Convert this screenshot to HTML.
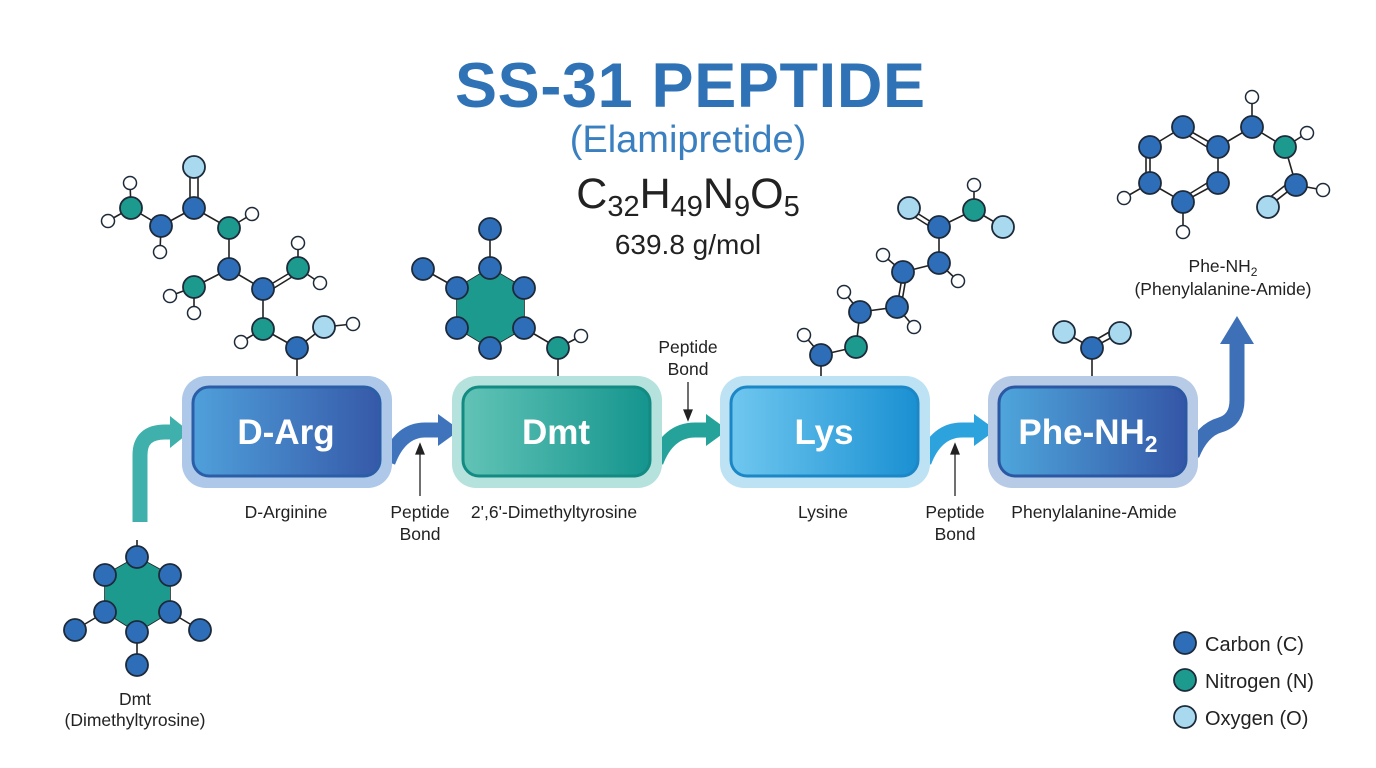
<!DOCTYPE html>
<html><head><meta charset="utf-8"><style>
html,body{margin:0;padding:0;background:#fff;}
svg{display:block;}
text{font-family:"Liberation Sans",sans-serif;}
</style></head><body>
<svg width="1376" height="768" viewBox="0 0 1376 768" xmlns="http://www.w3.org/2000/svg">
<defs>
<linearGradient id="g1" x1="0" x2="1"><stop offset="0" stop-color="#4fa0db"/><stop offset="1" stop-color="#3659a8"/></linearGradient>
<linearGradient id="g2" x1="0" x2="1"><stop offset="0" stop-color="#62c3b6"/><stop offset="1" stop-color="#14958e"/></linearGradient>
<linearGradient id="g3" x1="0" x2="1"><stop offset="0" stop-color="#6fc7ef"/><stop offset="1" stop-color="#1a90d2"/></linearGradient>
<linearGradient id="g4" x1="0" x2="1"><stop offset="0" stop-color="#4ea6dc"/><stop offset="1" stop-color="#3456a6"/></linearGradient>
</defs>

<text x="690" y="107" text-anchor="middle" font-size="63" font-weight="bold" fill="#2f73b6" textLength="470">SS-31 PEPTIDE</text>
<text x="688" y="152" text-anchor="middle" font-size="38" fill="#3a80c1">(Elamipretide)</text>
<text x="688" y="208" text-anchor="middle" font-size="43" fill="#222">C<tspan font-size="29" dy="8">32</tspan><tspan dy="-8">H</tspan><tspan font-size="29" dy="8">49</tspan><tspan dy="-8">N</tspan><tspan font-size="29" dy="8">9</tspan><tspan dy="-8">O</tspan><tspan font-size="29" dy="8">5</tspan></text>
<text x="688" y="254" text-anchor="middle" font-size="28" fill="#222">639.8 g/mol</text>

<g fill="none" stroke-width="15" stroke-linecap="butt">
<path d="M140 522 V455 Q140 432 165 432 H172" stroke="#3fb0ab"/>
<path d="M388 462 Q400 430 425 430 H440" stroke="#3f74bd"/>
<path d="M656 462 Q668 430 695 430 H708" stroke="#25a39a"/>
<path d="M924 462 Q936 430 962 430 H976" stroke="#2da3de"/>
<path d="M1192 455 Q1202 430 1220 425 Q1237 420 1237 400 V340" stroke="#3e70b8"/>
</g>
<polygon points="170,416 190,432 170,448" fill="#3fb0ab"/>
<polygon points="438,414 460,430 438,446" fill="#3f74bd"/>
<polygon points="706,414 728,430 706,446" fill="#25a39a"/>
<polygon points="974,414 996,430 974,446" fill="#2da3de"/>
<polygon points="1220,344 1237,316 1254,344" fill="#3e70b8"/>

<rect x="182" y="376" width="210" height="112" rx="24" fill="#adc8e8"/>
<rect x="193" y="387" width="187" height="89" rx="16" fill="url(#g1)" stroke="#2c5ea8" stroke-width="3"/>
<text x="286" y="444" text-anchor="middle" font-size="35" font-weight="bold" fill="#fff">D-Arg</text>

<rect x="452" y="376" width="210" height="112" rx="24" fill="#b6e2dd"/>
<rect x="463" y="387" width="187" height="89" rx="16" fill="url(#g2)" stroke="#138a82" stroke-width="3"/>
<text x="556" y="444" text-anchor="middle" font-size="35" font-weight="bold" fill="#fff">Dmt</text>

<rect x="720" y="376" width="210" height="112" rx="24" fill="#bce2f4"/>
<rect x="731" y="387" width="187" height="89" rx="16" fill="url(#g3)" stroke="#1c87c6" stroke-width="3"/>
<text x="824" y="444" text-anchor="middle" font-size="35" font-weight="bold" fill="#fff">Lys</text>

<rect x="988" y="376" width="210" height="112" rx="24" fill="#b7cbe7"/>
<rect x="999" y="387" width="187" height="89" rx="16" fill="url(#g4)" stroke="#2c57a3" stroke-width="3"/>
<text x="1088" y="444" text-anchor="middle" font-size="35" font-weight="bold" fill="#fff">Phe-NH<tspan font-size="23" dy="8">2</tspan></text>

<g font-size="17.5" fill="#222" text-anchor="middle">
<text x="286" y="518">D-Arginine</text>
<text x="420" y="518">Peptide</text><text x="420" y="540">Bond</text>
<text x="554" y="518">2',6'-Dimethyltyrosine</text>
<text x="823" y="518">Lysine</text>
<text x="955" y="518">Peptide</text><text x="955" y="540">Bond</text>
<text x="1094" y="518">Phenylalanine-Amide</text>
<text x="688" y="353">Peptide</text><text x="688" y="375">Bond</text>
<text x="135" y="705">Dmt</text><text x="135" y="726">(Dimethyltyrosine)</text>
<text x="1223" y="272">Phe-NH<tspan font-size="12" dy="4">2</tspan></text>
<text x="1223" y="295">(Phenylalanine-Amide)</text>
</g>
<g stroke="#222" stroke-width="1.3" fill="#222">
<line x1="420" y1="496" x2="420" y2="452"/><polygon points="416,454 420,444 424,454"/>
<line x1="955" y1="496" x2="955" y2="452"/><polygon points="951,454 955,444 959,454"/>
<line x1="688" y1="382" x2="688" y2="412"/><polygon points="684,410 688,420 692,410"/>
</g>

<g stroke="#222" stroke-width="1.6" fill="none">
<path d="M130 183 L131 208 L108 221 M131 208 L161 226 L160 252 M161 226 L194 208 M190 167 V208 M198 167 V208 M194 208 L229 228 L252 214 M229 228 L229 269 L194 287 L170 296 M194 287 L194 313 M229 269 L263 289 M263 289 L298 268 M266 293 L300 272 M298 268 L298 243 M298 268 L320 283 M263 289 L263 329 L241 342 M263 329 L297 348 L324 327 L353 324 M297 348 V376"/>
<path d="M490 229 V268 M423 269 L457 288 M490 268 L524 288 L524 328 L490 348 L457 328 L457 288 Z M558 348 L581 336 M524 328 L558 348 V376 M494 275 L520 290 M463 292 V324 M494 341 L520 326"/>
<path d="M804 335 L821 355 L856 347 L860 312 L844 292 M860 312 L897 307 L914 327 M897 307 L903 272 M901 307 L907 272 M903 272 L883 255 M903 272 L939 263 L958 281 M939 263 L939 227 L909 208 M937 231 L907 212 M939 227 L974 210 L974 185 M974 210 L1003 227 M821 355 V376"/>
<path d="M1064 332 L1092 348 L1120 333 M1092 342 L1118 327 M1092 348 V376"/>
<path d="M1150 147 L1183 127 L1218 147 L1218 183 L1183 202 L1150 183 Z M1146 150 V180 M1186 134 L1212 150 M1186 196 L1212 180 M1150 183 L1124 198 M1183 202 V232 M1218 147 L1252 127 L1252 97 M1252 127 L1285 147 L1307 133 M1285 147 L1296 185 L1323 190 M1296 185 L1268 207 M1292 180 L1264 202"/>
<path d="M137 540 V557 M137 557 L170 575 L170 612 L137 632 L105 612 L105 575 Z M105 612 L75 630 M170 612 L200 630 M137 632 V665 M110 580 V607 M140 564 L165 578 M140 625 L165 610"/>
</g>
<polygon points="490,268 524,288 524,328 490,348 457,328 457,288" fill="#1c9a8e"/>
<polygon points="137,557 170,575 170,612 137,632 105,612 105,575" fill="#1c9a8e"/>

<g stroke="#1d2a3a" stroke-width="1.8">
<g fill="#2e6eb8">
<circle cx="194" cy="208" r="11"/><circle cx="161" cy="226" r="11"/><circle cx="229" cy="269" r="11"/><circle cx="263" cy="289" r="11"/><circle cx="297" cy="348" r="11"/>
<circle cx="490" cy="229" r="11"/><circle cx="423" cy="269" r="11"/><circle cx="490" cy="268" r="11"/><circle cx="457" cy="288" r="11"/><circle cx="524" cy="288" r="11"/><circle cx="457" cy="328" r="11"/><circle cx="524" cy="328" r="11"/><circle cx="490" cy="348" r="11"/>
<circle cx="821" cy="355" r="11"/><circle cx="860" cy="312" r="11"/><circle cx="897" cy="307" r="11"/><circle cx="903" cy="272" r="11"/><circle cx="939" cy="263" r="11"/><circle cx="939" cy="227" r="11"/>
<circle cx="1092" cy="348" r="11"/>
<circle cx="1150" cy="147" r="11"/><circle cx="1183" cy="127" r="11"/><circle cx="1218" cy="147" r="11"/><circle cx="1218" cy="183" r="11"/><circle cx="1183" cy="202" r="11"/><circle cx="1150" cy="183" r="11"/><circle cx="1252" cy="127" r="11"/><circle cx="1296" cy="185" r="11"/>
<circle cx="137" cy="557" r="11"/><circle cx="170" cy="575" r="11"/><circle cx="170" cy="612" r="11"/><circle cx="137" cy="632" r="11"/><circle cx="105" cy="612" r="11"/><circle cx="105" cy="575" r="11"/><circle cx="75" cy="630" r="11"/><circle cx="200" cy="630" r="11"/><circle cx="137" cy="665" r="11"/>
<circle cx="1185" cy="643" r="11"/>
</g>
<g fill="#1c9a8e">
<circle cx="131" cy="208" r="11"/><circle cx="229" cy="228" r="11"/><circle cx="298" cy="268" r="11"/><circle cx="194" cy="287" r="11"/><circle cx="263" cy="329" r="11"/>
<circle cx="558" cy="348" r="11"/><circle cx="856" cy="347" r="11"/><circle cx="974" cy="210" r="11"/><circle cx="1285" cy="147" r="11"/>
<circle cx="1185" cy="680" r="11"/>
</g>
<g fill="#a9d9ef">
<circle cx="194" cy="167" r="11"/><circle cx="324" cy="327" r="11"/><circle cx="909" cy="208" r="11"/><circle cx="1003" cy="227" r="11"/><circle cx="1064" cy="332" r="11"/><circle cx="1120" cy="333" r="11"/><circle cx="1268" cy="207" r="11"/>
<circle cx="1185" cy="717" r="11"/>
</g>
<g fill="#fff" stroke-width="1.5">
<circle cx="130" cy="183" r="6.5"/><circle cx="108" cy="221" r="6.5"/><circle cx="160" cy="252" r="6.5"/><circle cx="252" cy="214" r="6.5"/><circle cx="298" cy="243" r="6.5"/><circle cx="320" cy="283" r="6.5"/><circle cx="170" cy="296" r="6.5"/><circle cx="194" cy="313" r="6.5"/><circle cx="241" cy="342" r="6.5"/><circle cx="353" cy="324" r="6.5"/>
<circle cx="581" cy="336" r="6.5"/>
<circle cx="804" cy="335" r="6.5"/><circle cx="844" cy="292" r="6.5"/><circle cx="914" cy="327" r="6.5"/><circle cx="883" cy="255" r="6.5"/><circle cx="958" cy="281" r="6.5"/><circle cx="974" cy="185" r="6.5"/>
<circle cx="1124" cy="198" r="6.5"/><circle cx="1183" cy="232" r="6.5"/><circle cx="1252" cy="97" r="6.5"/><circle cx="1307" cy="133" r="6.5"/><circle cx="1323" cy="190" r="6.5"/>
</g>
</g>

<g font-size="20" fill="#222">
<text x="1205" y="651">Carbon (C)</text>
<text x="1205" y="688">Nitrogen (N)</text>
<text x="1205" y="725">Oxygen (O)</text>
</g>
</svg>
</body></html>
